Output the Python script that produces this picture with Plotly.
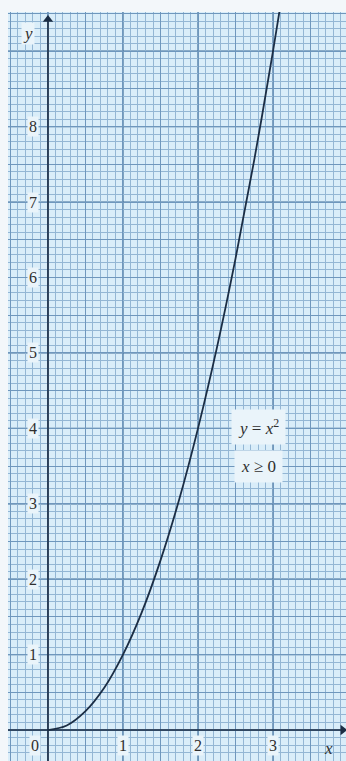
import plotly.graph_objects as go

# Data (curve y = x^2 for x >= 0)
curve_x = [0, 0.25, 0.5, 0.75, 1.0, 1.25, 1.5, 1.75, 2.0, 2.25, 2.5, 2.75, 3.0, 3.14]
curve_y = [0, 0.06, 0.25, 0.56, 1.0, 1.56, 2.25, 3.06, 4.0, 5.06, 6.25, 7.56, 9.0, 9.86]

x_ticks = [1, 2, 3]
y_ticks = [1, 2, 3, 4, 5, 6, 7, 8]

X_RANGE = [-0.533, 3.973]
Y_RANGE = [-0.41, 9.52]
X_TIP = 3.93
Y_TIP = 9.42

BG = "#d9edf9"
MINOR = "#93b6d4"
MID = "#6f97bd"
MAJOR = "#3f6d98"
INK = "#1b2d44"
LABEL_BG = "#eaf4fa"
TEXT = "#2f2f2f"
SERIF = "Liberation Serif, DejaVu Serif, serif"

fig = go.Figure()
# axes
fig.add_trace(go.Scatter(x=[X_RANGE[0], X_TIP], y=[0, 0], mode="lines",
                         line=dict(color=INK, width=1.6), hoverinfo="skip", showlegend=False))
fig.add_trace(go.Scatter(x=[0, 0], y=[Y_RANGE[0], Y_TIP], mode="lines",
                         line=dict(color=INK, width=1.6), hoverinfo="skip", showlegend=False))
fig.add_trace(go.Scatter(x=[X_TIP], y=[0], mode="markers",
                         marker=dict(symbol="triangle-right", size=9, color=INK),
                         hoverinfo="skip", showlegend=False))
fig.add_trace(go.Scatter(x=[0], y=[Y_TIP], mode="markers",
                         marker=dict(symbol="triangle-up", size=9, color=INK),
                         hoverinfo="skip", showlegend=False))
# curve
fig.add_trace(go.Scatter(x=curve_x, y=curve_y, mode="lines",
                         line=dict(color=INK, width=1.8, shape="spline"),
                         hoverinfo="skip", showlegend=False))

axis_common = dict(showline=False, zeroline=False, showticklabels=False,
                   ticks="", showgrid=True, gridcolor=MID, gridwidth=1,
                   dtick=0.5, tick0=0,
                   minor=dict(dtick=0.1, showgrid=True, gridcolor=MINOR, gridwidth=1, ticks=""),
                   fixedrange=True)
fig.update_xaxes(range=X_RANGE, **axis_common)
fig.update_yaxes(range=Y_RANGE, **axis_common)

shapes = []
for v in range(0, 4):
    shapes.append(dict(type="line", xref="x", yref="paper", x0=v, x1=v, y0=0, y1=1,
                       line=dict(color=MAJOR, width=1.2), layer="between"))
for v in range(0, 10):
    shapes.append(dict(type="line", xref="paper", yref="y", x0=0, x1=1, y0=v, y1=v,
                       line=dict(color=MAJOR, width=1.2), layer="between"))
fig.update_layout(shapes=shapes)

annotations = []
label_font = dict(family=SERIF, size=16, color=TEXT)
for t in x_ticks:
    annotations.append(dict(x=t, y=-0.21, xref="x", yref="y", text=str(t), showarrow=False,
                            font=label_font, bgcolor=LABEL_BG, borderpad=1))
annotations.append(dict(x=-0.17, y=-0.21, xref="x", yref="y", text="0", showarrow=False,
                        font=label_font, bgcolor=LABEL_BG, borderpad=1))
for t in y_ticks:
    annotations.append(dict(x=-0.2, y=t, xref="x", yref="y", text=str(t), showarrow=False,
                            font=label_font, bgcolor=LABEL_BG, borderpad=1))
annotations.append(dict(x=3.74, y=-0.24, xref="x", yref="y", text="<i>x</i>", showarrow=False,
                        font=dict(family=SERIF, size=17, color=TEXT)))
annotations.append(dict(x=-0.27, y=9.24, xref="x", yref="y", text="<i>y</i>", showarrow=False,
                        font=dict(family=SERIF, size=17, color=TEXT), bgcolor=LABEL_BG))
annotations.append(dict(x=2.8, y=4.02, xref="x", yref="y", text="<i>y</i> = <i>x</i><sup>2</sup>",
                        showarrow=False, font=dict(family=SERIF, size=17, color=TEXT),
                        bgcolor=LABEL_BG, borderpad=6))
annotations.append(dict(x=2.8, y=3.5, xref="x", yref="y", text="<i>x</i> ≥ 0",
                        showarrow=False, font=dict(family=SERIF, size=17, color=TEXT),
                        bgcolor=LABEL_BG, borderpad=6))
fig.update_layout(annotations=annotations)

fig.update_layout(width=346, height=761, margin=dict(l=8, r=0, t=12, b=0),
                  paper_bgcolor="#f3f7fa", plot_bgcolor=BG, showlegend=False)

fig.write_html("out.html", config={"displayModeBar": False},
               post_script="document.body.style.margin='0';document.body.style.overflow='hidden';")
